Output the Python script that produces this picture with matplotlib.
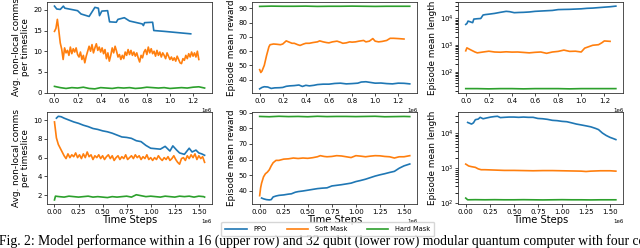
import matplotlib
matplotlib.use("Agg")
import matplotlib.pyplot as plt
from matplotlib.ticker import MultipleLocator
import numpy as np

# colours of the three models
c_ppo, c_soft, c_hard = "#1f77b4", "#ff7f0e", "#2ca02c"

# ---------------- 16 qubit (upper row) ----------------
# avg non-local comms per timeslice
ppo16_comms_x = [0.0, 0.02, 0.05, 0.077, 0.09, 0.2, 0.23, 0.3, 0.35, 0.38, 0.39, 0.41,
                 0.46, 0.477, 0.535, 0.55, 0.605, 0.65, 0.76, 0.77, 0.78, 0.85, 0.86, 0.95, 1.18]
ppo16_comms = [20.9, 20.2, 20.1, 20.9, 20.4, 19.8, 19.0, 18.4, 20.6, 20.4, 18.6, 19.7,
               19.8, 17.1, 17.0, 17.7, 18.1, 17.3, 16.6, 16.2, 16.9, 17.0, 15.0, 14.8, 14.2]
soft16_comms = [14.8, 15.5, 17.7, 15.0, 12.0, 10.5, 8.0, 10.8, 9.6, 10.2,
                9.0, 11.0, 9.4, 10.6, 9.8, 10.8, 9.2, 8.6, 9.8, 8.0,
                9.0, 7.2, 8.8, 10.0, 11.2, 10.0, 11.6, 9.6, 10.8, 11.8,
                10.2, 11.0, 9.8, 10.8, 9.4, 10.4, 8.2, 9.6, 7.6, 9.0,
                10.8, 9.6, 11.2, 10.0, 8.6, 9.2, 8.0, 9.0, 8.2, 9.8,
                9.0, 10.4, 9.2, 10.2, 9.0, 9.8, 8.8, 9.6, 8.4, 7.4,
                9.0, 8.4, 9.8, 10.4, 9.2, 11.0, 9.6, 10.6, 9.4, 10.0,
                8.8, 10.2, 9.0, 9.8, 8.6, 9.6, 9.0, 8.2, 9.6, 8.8,
                8.0, 8.6, 7.8, 8.4, 7.6, 8.8, 8.0, 7.2, 7.0, 8.2,
                7.8, 9.0, 8.2, 9.4, 8.6, 9.8, 8.8, 9.6, 8.6, 10.0, 8.0]
soft16_comms_x = np.arange(len(soft16_comms)) * 0.0125
hard16_comms = [1.5, 1.2, 1.0, 1.2, 1.1, 1.3, 1.0, 0.9, 1.2, 1.1, 1.0, 1.2, 1.1, 1.2,
                1.0, 1.1, 1.3, 1.2, 1.1, 1.2, 1.0, 1.1, 1.2, 1.1, 1.3, 1.4, 1.1]
hard16_comms_x = np.arange(len(hard16_comms)) * 0.05

# episode mean reward
ppo16_rew_x = [0, 0.02, 0.04, 0.07, 0.1, 0.13, 0.17, 0.2, 0.23, 0.26,
               0.3, 0.34, 0.37, 0.4, 0.43, 0.47, 0.5, 0.55, 0.6, 0.65,
               0.7, 0.75, 0.8, 0.85, 0.88, 0.92, 0.96, 1.0, 1.05, 1.1,
               1.15, 1.2, 1.25, 1.3]
ppo16_rew = [33.5, 34.5, 35, 34.8, 33.8, 34.2, 34.3, 34.5, 35.3, 35.6,
             35.8, 36.2, 35.2, 36, 35.6, 36, 36.5, 36.8, 36.8, 37.3,
             37.5, 37, 37.2, 37.5, 38.3, 38.5, 38, 37.5, 37.6, 37.2,
             37, 37.5, 37.4, 37]
soft16_rew_x = [0, 0.01, 0.02, 0.04, 0.06, 0.08, 0.09, 0.12, 0.15, 0.18,
                0.2, 0.23, 0.25, 0.28, 0.3, 0.33, 0.35, 0.38, 0.4, 0.43,
                0.46, 0.5, 0.52, 0.55, 0.58, 0.6, 0.63, 0.67, 0.7, 0.72,
                0.75, 0.78, 0.8, 0.83, 0.86, 0.9, 0.92, 0.95, 0.98, 1.0,
                1.03, 1.06, 1.1, 1.13, 1.16, 1.2, 1.25]
soft16_rew = [47, 45, 46, 50, 57, 63, 64.5, 65, 64.8, 64.5,
              65, 67.2, 66.5, 65.5, 65.5, 64.5, 64, 65, 65.5, 65.5,
              66, 66.5, 67.2, 66.5, 66, 65.8, 66.5, 67, 66.2, 65.5,
              65.8, 66.5, 66.3, 66.5, 67, 67.5, 66.5, 67, 68.8, 67,
              66.5, 66.8, 67.5, 69, 69, 68.8, 68.5]
hard16_rew = [91.4, 91.6, 91.5, 91.5, 91.6, 91.4, 91.5, 91.5, 91.6, 91.5, 91.4, 91.5, 91.5, 91.5]
hard16_rew_x = np.arange(len(hard16_rew)) * 0.1

# episode mean length
ppo16_len_x = [0, 0.01, 0.02, 0.04, 0.05, 0.06, 0.07, 0.1, 0.13, 0.15,
               0.17, 0.2, 0.25, 0.3, 0.35, 0.38, 0.42, 0.46, 0.5, 0.55,
               0.6, 0.65, 0.7, 0.75, 0.8, 0.85, 0.9, 0.95, 1.0, 1.05,
               1.1, 1.15, 1.2, 1.25, 1.3]
ppo16_len = [6000, 6500, 8000, 7500, 7200, 7000, 9500, 9800, 10000, 13500,
             14000, 14500, 15500, 17000, 18500, 18000, 16500, 16800, 17000, 17500,
             18500, 19000, 19500, 20000, 21500, 21800, 22000, 22500, 23000, 24000,
             24500, 25500, 26500, 27500, 29000]
soft16_len_x = [0, 0.01, 0.03, 0.05, 0.08, 0.1, 0.15, 0.2, 0.25, 0.3,
                0.35, 0.4, 0.45, 0.5, 0.55, 0.6, 0.65, 0.7, 0.75, 0.8,
                0.85, 0.9, 0.95, 1.0, 1.03, 1.07, 1.1, 1.15, 1.18, 1.2, 1.25]
soft16_len = [620, 800, 720, 650, 560, 520, 560, 600, 560, 550,
              570, 555, 560, 540, 520, 545, 560, 500, 560, 590,
              660, 590, 600, 560, 780, 900, 1000, 1050, 1250, 1450, 1400]
hard16_len = [24, 24, 23.5, 24, 24, 23.5, 24, 24, 24, 23.5, 24, 24, 24, 24]
hard16_len_x = np.arange(len(hard16_len)) * 0.1

# ---------------- 32 qubit (lower row) ----------------
ppo32_comms_x = [0.02, 0.04, 0.07, 0.1, 0.15, 0.2, 0.25, 0.3, 0.35, 0.4,
                 0.45, 0.5, 0.55, 0.6, 0.65, 0.7, 0.75, 0.8, 0.85, 0.9,
                 0.95, 1.0, 1.05, 1.1, 1.15, 1.2, 1.23, 1.27, 1.3, 1.35,
                 1.4, 1.43, 1.47, 1.5, 1.53, 1.56]
ppo32_comms = [10.2, 10.4, 10.35, 10.2, 10.0, 9.8, 9.65, 9.45, 9.3, 9.1,
               9.0, 8.85, 8.75, 8.6, 8.4, 8.2, 8.15, 8.05, 7.8, 7.7,
               7.3, 7.0, 6.95, 6.9, 7.2, 6.7, 7.25, 6.8, 6.5, 6.35,
               7.0, 6.6, 6.8, 6.5, 6.4, 6.25]
soft32_comms = [9.8, 8.1, 7.4, 7.0, 6.6, 6.2, 5.9, 6.4, 6.0, 6.3,
                6.1, 6.5, 6.0, 6.3, 5.9, 6.4, 6.0, 6.6, 6.1, 6.3,
                5.8, 6.2, 6.0, 6.3, 5.9, 6.2, 5.8, 6.1, 6.3, 5.9,
                6.2, 5.7, 6.0, 6.2, 5.8, 6.1, 5.9, 6.3, 5.8, 6.0,
                6.2, 5.9, 6.3, 6.0, 6.2, 5.8, 6.1, 5.9, 6.3, 5.8,
                6.0, 5.7, 6.0, 5.8, 6.2, 5.9, 5.7, 6.0, 5.8, 6.1,
                5.7, 5.9, 6.2, 5.8, 5.5, 5.3, 5.9, 6.0, 5.7, 6.2,
                5.9, 6.3, 6.0, 6.4, 5.8, 6.2, 5.9, 6.1, 5.5]
soft32_comms_x = np.arange(len(soft32_comms)) * 0.02
hard32_comms_x = [0, 0.01] + [0.05 * k for k in range(1, 32)] + [1.56]
hard32_comms = [1.5, 1.9, 1.85, 1.8, 1.9, 1.85, 1.8, 1.85, 1.9, 1.8, 1.85, 1.8,
                1.75, 1.85, 1.8, 1.85, 1.9, 1.8, 2.05, 1.95, 1.85, 1.9,
                1.85, 1.8, 1.9, 1.85, 1.8, 1.9, 1.85, 1.9, 1.8, 1.9, 1.85, 1.8]

ppo32_rew_x = [0.02, 0.04, 0.07, 0.1, 0.12, 0.14, 0.17, 0.2, 0.25, 0.3,
               0.33, 0.37, 0.4, 0.45, 0.5, 0.55, 0.6, 0.65, 0.7, 0.75,
               0.8, 0.85, 0.9, 0.95, 1.0, 1.05, 1.1, 1.15, 1.2, 1.25,
               1.3, 1.35, 1.4, 1.45, 1.5, 1.56]
ppo32_rew = [35.5, 35, 34.5, 34.3, 34.5, 36.2, 36.8, 37.2, 37.5, 38,
             38.2, 39.2, 39.6, 40, 40.5, 41, 41.5, 41.8, 42, 43.2,
             43.6, 44, 44.5, 45, 46, 46.7, 47.5, 48.5, 49.5, 50.3,
             51, 51.8, 52.5, 54.5, 56, 57.2]
soft32_rew_x = [0, 0.01, 0.02, 0.04, 0.06, 0.08, 0.1, 0.12, 0.14, 0.17,
                0.2, 0.25, 0.3, 0.35, 0.4, 0.45, 0.5, 0.55, 0.6, 0.63,
                0.67, 0.7, 0.75, 0.8, 0.85, 0.9, 0.95, 1.0, 1.05, 1.1,
                1.15, 1.2, 1.25, 1.3, 1.35, 1.4, 1.45, 1.5, 1.56]
soft32_rew = [37, 42, 45, 49, 51, 52, 53.5, 56, 58, 59.5,
              59.5, 60.3, 60.5, 61, 60.7, 61, 60.8, 61.2, 61.8, 62.5,
              62, 61.8, 62, 62.5, 62.3, 61.8, 61.3, 62.5, 62.2, 61.8,
              62.2, 62.5, 62.4, 62, 61.8, 61, 61.8, 61.8, 62.5]
hard32_rew_x = [0.1 * k for k in range(16)] + [1.56]
hard32_rew = [87.5, 87.3, 87.6, 87.4, 87.5, 87.3, 87.6, 87.4, 87.5, 87.5,
              87.4, 87.5, 87.6, 87.3, 87.4, 87.5, 87.4]

ppo32_len_x = [0.02, 0.04, 0.06, 0.08, 0.1, 0.13, 0.15, 0.18, 0.22, 0.26,
               0.3, 0.33, 0.36, 0.4, 0.45, 0.5, 0.55, 0.6, 0.65, 0.7,
               0.75, 0.8, 0.85, 0.9, 0.95, 1.0, 1.05, 1.1, 1.15, 1.2,
               1.25, 1.3, 1.35, 1.38, 1.42, 1.46, 1.5, 1.53, 1.56]
ppo32_len = [20000, 19000, 18000, 19500, 24000, 25000, 28000, 25500, 27000, 28500,
             29500, 30000, 27500, 28000, 28500, 28500, 28000, 28500, 28000, 28000,
             26000, 25500, 24500, 23000, 22500, 21500, 21000, 19500, 18000, 17000,
             16000, 15000, 13500, 12500, 10000, 8500, 7500, 7000, 6500]
soft32_len_x = [0, 0.01, 0.03, 0.06, 0.1, 0.13, 0.16, 0.2, 0.3, 0.4,
                0.5, 0.6, 0.7, 0.8, 0.9, 1.0, 1.1, 1.2, 1.25, 1.3,
                1.4, 1.5, 1.56]
soft32_len = [1300, 1250, 1150, 1100, 1050, 950, 900, 900, 880, 860,
              860, 850, 840, 850, 850, 840, 830, 820, 800, 820,
              840, 840, 820]
hard32_len_x = [0, 0.02] + [0.1 * k for k in range(1, 16)] + [1.56]
hard32_len = [140, 125, 126, 125, 126, 125, 125, 126, 125, 124, 125, 126,
              125, 125, 124, 125, 125, 125]

caption = ("Fig. 2: Model performance within a 16 (upper row) and 32 qubit (lower row) "
           "modular quantum computer with four cores")

# ---------------- figure ----------------
fig = plt.figure(figsize=(6.4, 2.48), dpi=100)
lefts = [0.0734, 0.394, 0.716]
w = 0.258
rows = [(0.625, 0.367), (0.177, 0.371)]
axes = [[fig.add_axes([l, b, w, h]) for l in lefts] for (b, h) in rows]

lw = 1.2
def draw(ax, series):
    for x, y, c, lab in series:
        ax.plot(np.array(x) * 1e6, y, color=c, lw=lw, label=lab)

draw(axes[0][0], [(ppo16_comms_x, ppo16_comms, c_ppo, "PPO"),
                  (soft16_comms_x, soft16_comms, c_soft, "Soft Mask"),
                  (hard16_comms_x, hard16_comms, c_hard, "Hard Mask")])
draw(axes[0][1], [(ppo16_rew_x, ppo16_rew, c_ppo, "PPO"),
                  (soft16_rew_x, soft16_rew, c_soft, "Soft Mask"),
                  (hard16_rew_x, hard16_rew, c_hard, "Hard Mask")])
draw(axes[0][2], [(ppo16_len_x, ppo16_len, c_ppo, "PPO"),
                  (soft16_len_x, soft16_len, c_soft, "Soft Mask"),
                  (hard16_len_x, hard16_len, c_hard, "Hard Mask")])
draw(axes[1][0], [(ppo32_comms_x, ppo32_comms, c_ppo, "PPO"),
                  (soft32_comms_x, soft32_comms, c_soft, "Soft Mask"),
                  (hard32_comms_x, hard32_comms, c_hard, "Hard Mask")])
draw(axes[1][1], [(ppo32_rew_x, ppo32_rew, c_ppo, "PPO"),
                  (soft32_rew_x, soft32_rew, c_soft, "Soft Mask"),
                  (hard32_rew_x, hard32_rew, c_hard, "Hard Mask")])
draw(axes[1][2], [(ppo32_len_x, ppo32_len, c_ppo, "PPO"),
                  (soft32_len_x, soft32_len, c_soft, "Soft Mask"),
                  (hard32_len_x, hard32_len, c_hard, "Hard Mask")])

for ax in (axes[0][2], axes[1][2]):
    ax.set_yscale("log")

lab_fs = 6.4
tick_fs = 5.0
for r in range(2):
    axes[r][0].set_ylabel("Avg. non-local comms\nper timeslice", fontsize=lab_fs, labelpad=2, linespacing=1.0)
    axes[r][1].set_ylabel("Episode mean reward", fontsize=lab_fs, labelpad=2)
    axes[r][2].set_ylabel("Episode mean length", fontsize=lab_fs, labelpad=2)
    for ax in axes[r]:
        ax.xaxis.set_major_locator(MultipleLocator(0.2e6 if r == 0 else 0.25e6))
        ax.tick_params(labelsize=tick_fs, length=2, width=0.5, pad=1.5)
        ax.xaxis.get_offset_text().set_fontsize(4.0)
        for s in ax.spines.values():
            s.set_linewidth(0.6)
            s.set_color("#333333")

# x labels only under the lower row, pinned just below the tick labels
for ax in axes[1]:
    ax.set_xlabel("Time Steps", fontsize=7.2, va="top")
    ax.xaxis.set_label_coords(0.5, -0.118)

axes[0][0].yaxis.set_major_locator(MultipleLocator(5))
axes[1][0].yaxis.set_major_locator(MultipleLocator(2))
axes[0][1].yaxis.set_major_locator(MultipleLocator(10))
axes[1][1].yaxis.set_major_locator(MultipleLocator(10))

handles, labels = axes[1][1].get_legend_handles_labels()
fig.legend(handles, labels, loc="center", bbox_to_anchor=(0.512, 0.077), ncol=3,
           fontsize=4.8, frameon=True, handlelength=3.2, columnspacing=3.0,
           borderpad=0.6, handletextpad=1.0, edgecolor="#cccccc", fancybox=True)

fig.text(-0.002, 0.012, caption, fontsize=9.8, family="Liberation Serif", ha="left", va="baseline")

fig.savefig("out.png", dpi=100)
